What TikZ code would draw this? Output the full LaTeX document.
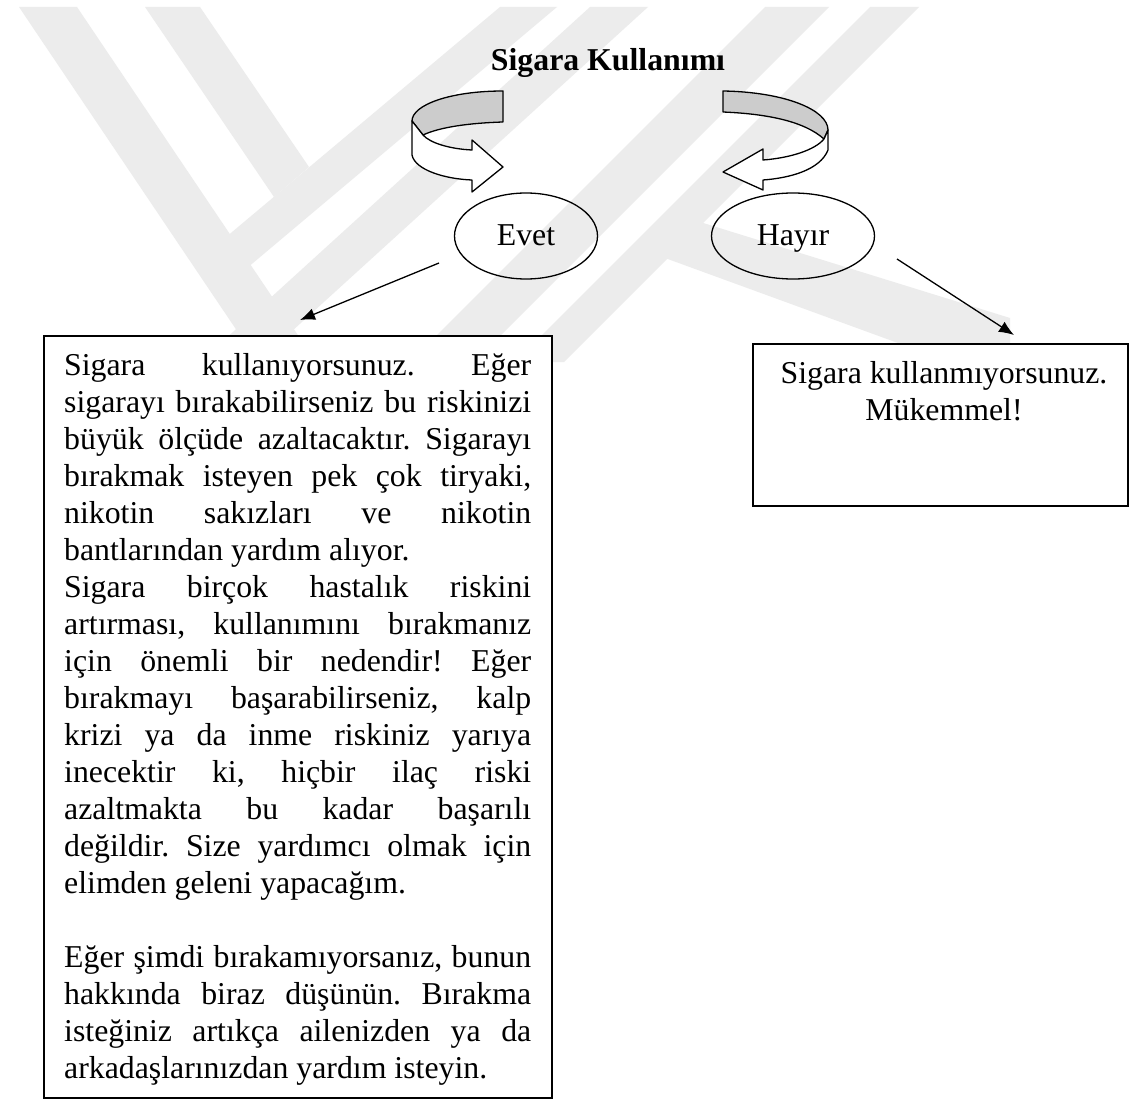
\documentclass[tikz,border=0pt]{standalone}
\usepackage{fontspec}
\setmainfont{Liberation Serif}
\usetikzlibrary{shapes.geometric,arrows.meta}
\definecolor{wm}{RGB}{236,236,236}
\definecolor{ribbon}{RGB}{204,204,204}
\tikzset{
  txt/.style={font=\fontsize{31.8}{37}\selectfont, inner sep=0pt},
  ans/.style={draw, ellipse, line width=1.3pt, minimum width=143pt, minimum height=86pt,
    inner sep=0pt, text height=20pt, text depth=0pt, font=\fontsize{31.8}{37}\selectfont},
  msgbox/.style={draw, fill=white, line width=1.5pt, inner sep=0pt},
  conn/.style={line width=1.3pt, -{Latex[length=15pt,width=12pt]}},
  rib/.style={draw, line width=1.3pt, line join=round},
  wmark/.style={fill=wm, draw=none},
}
\newcommand{\jl}[1]{\makebox[467pt][s]{#1}}
\frenchspacing
\begin{document}
\begin{tikzpicture}[x=1pt,y=-1pt]
\useasboundingbox (0,0) rectangle (1129,1099);
\fill[white] (0,0) rectangle (1129,1099);
% watermark
\begin{scope}
\clip (0,7) rectangle (1129,362);
% A: long "\" stripe
\fill[wmark] (19,7) -- (77,7) -- (316,362) -- (258,362) -- cycle;
% B: short "\" stripe ending on C
\fill[wmark] (145,7) -- (200,7) -- (309,167) -- (274,197) -- cycle;
% C: "/" stripe ending on A
\fill[wmark] (500,7) -- (557,7) -- (215,295) -- (194,264) -- cycle;
% D: "/" stripe
\fill[wmark] (590,7) -- (648,7) -- (258,362) -- (200,362) -- cycle;
% E: "/" stripe
\fill[wmark] (765,7) -- (829,7) -- (474,362) -- (410,362) -- cycle;
% G: "/" stripe
\fill[wmark] (870,7) -- (919,7) -- (564,362) -- (515,362) -- cycle;
% F: "\" stripe from G
\fill[wmark] (665,258) -- (700,222) -- (1010,318) -- (1010,362) -- (950,362) -- cycle;
\end{scope}
% title
\node[txt, font=\bfseries\fontsize{31.8}{37}\selectfont, anchor=base] (title) at (608,71) {Sigara Kullanımı};
% left ribbon
\filldraw[rib, fill=ribbon] (503,91) .. controls (450,91) and (412,105) .. (412,121)
  -- (423,135) .. controls (440,127) and (470,123) .. (503,122) -- cycle;
\filldraw[rib, fill=white] (412,121) -- (412,155) .. controls (415,170) and (445,179) .. (472,180)
  -- (472,192) -- (503,167) -- (472,140) -- (472,150)
  .. controls (450,149) and (430,143) .. (423,135) -- cycle;
% right ribbon
\filldraw[rib, fill=ribbon] (723,91) .. controls (785,92) and (828,110) .. (828,130)
  -- (824,139) .. controls (805,122) and (770,114) .. (723,112) -- cycle;
\filldraw[rib, fill=white] (828,130) -- (828,150) .. controls (820,170) and (790,178) .. (763,180)
  -- (763,190) -- (723,172) -- (763,149) -- (763,160)
  .. controls (790,158) and (815,150) .. (824,139) -- cycle;
% answers
\node[ans] (evet) at (526,236) {Evet};
\node[ans, minimum width=163pt] (hayir) at (793,236) {Hayır};
% boxes
\node[msgbox, anchor=north west, minimum width=508pt, minimum height=762pt] (yesbox) at (43,335) {};
\node[msgbox, anchor=north west, minimum width=375pt, minimum height=162pt] (nobox) at (752,343) {};
% connectors
\coordinate (evetout) at (439,263);
\coordinate (evetin) at (300,320);
\draw[conn] (evetout) -- (evetin);
\coordinate (hayirout) at (897,259);
\coordinate (hayirin) at (1014,335);
\draw[conn] (hayirout) -- (hayirin);
% yes text
\foreach \t [count=\i from 0] in {
  {\jl{Sigara kullanıyorsunuz. Eğer}},
  {\jl{sigarayı bırakabilirseniz bu riskinizi}},
  {\jl{büyük ölçüde azaltacaktır. Sigarayı}},
  {\jl{bırakmak isteyen pek çok tiryaki,}},
  {\jl{nikotin sakızları ve nikotin}},
  {bantlarından yardım alıyor.},
  {\jl{Sigara birçok hastalık riskini}},
  {\jl{artırması, kullanımını bırakmanız}},
  {\jl{için önemli bir nedendir! Eğer}},
  {\jl{bırakmayı başarabilirseniz, kalp}},
  {\jl{krizi ya da inme riskiniz yarıya}},
  {\jl{inecektir ki, hiçbir ilaç riski}},
  {\jl{azaltmakta bu kadar başarılı}},
  {\jl{değildir. Size yardımcı olmak için}},
  {elimden geleni yapacağım.}}
  \node[txt, anchor=base west] (ya\i) at (64,375+37*\i) {\t};
\foreach \t [count=\i from 0] in {
  {\jl{Eğer şimdi bırakamıyorsanız, bunun}},
  {\jl{hakkında biraz düşünün. Bırakma}},
  {\jl{isteğiniz artıkça ailenizden ya da}},
  {arkadaşlarınızdan yardım isteyin.}}
  \node[txt, anchor=base west] (yb\i) at (64,967+37*\i) {\t};
% no text
\node[txt, anchor=base] (no1) at (944,383) {Sigara kullanmıyorsunuz.};
\node[txt, anchor=base] (no2) at (944,420) {Mükemmel!};
\end{tikzpicture}
\end{document}
